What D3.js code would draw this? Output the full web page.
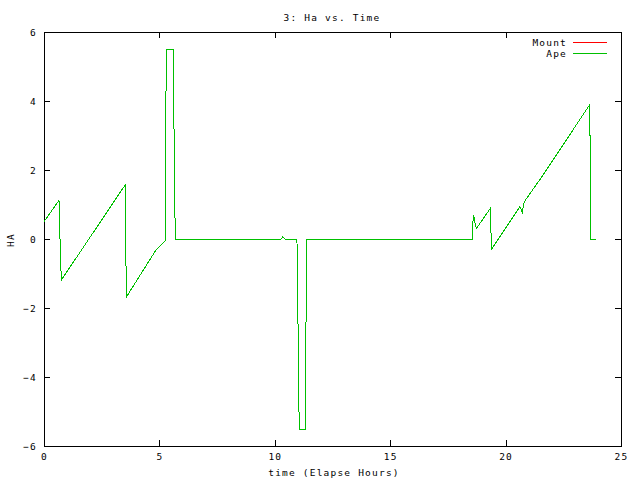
<!DOCTYPE html>
<html>
<head>
<meta charset="utf-8">
<script src="https://cdn.jsdelivr.net/npm/d3@7"></script>
<style>
  body { margin: 0; background: #fff; }
  svg text { font-family: "DejaVu Sans Mono", monospace; font-size: 9.5px; letter-spacing: 1.2px; fill: #000; }
</style>
</head>
<body>
<div id="chart"></div>
<script>
// elapsed hours and hour angle
const times = [0.00, 0.65, 0.67, 0.72, 0.75, 3.52, 3.54, 3.57, 4.85, 5.25,
  5.26, 5.28, 5.33, 5.60, 5.62, 5.66, 5.69, 10.27, 10.34, 10.44,
  10.96, 10.99, 11.03, 11.06, 11.32, 11.34, 11.36, 11.39, 18.56, 18.58,
  18.62, 18.65, 18.73, 19.34, 19.36, 19.40, 20.62, 20.72, 20.81, 21.63,
  23.63, 23.66, 23.68, 23.70, 23.90];
const mountHA = [0.50, 1.12, 0.55, -0.59, -1.19, 1.57, -0.05, -1.68, -0.32, -0.06,
  1.32, 4.10, 5.50, 5.50, 4.10, 1.32, 0.00, 0.00, 0.06, 0.00,
  0.00, -1.39, -4.12, -5.51, -5.51, -4.12, -1.39, 0.00, 0.00, 0.48,
  0.70, 0.55, 0.30, 0.89, 0.30, -0.29, 0.94, 0.77, 1.08, 1.86,
  3.88, 2.92, 0.97, 0.00, 0.00];
const apeHA = [0.50, 1.12, 0.55, -0.59, -1.19, 1.57, -0.05, -1.68, -0.32, -0.06,
  1.32, 4.10, 5.50, 5.50, 4.10, 1.32, 0.00, 0.00, 0.06, 0.00,
  0.00, -1.39, -4.12, -5.51, -5.51, -4.12, -1.39, 0.00, 0.00, 0.48,
  0.70, 0.55, 0.30, 0.89, 0.30, -0.29, 0.94, 0.77, 1.08, 1.86,
  3.88, 2.92, 0.97, 0.00, 0.00];
const xTicks = [0, 5, 10, 15, 20, 25];
const yTicks = [-6, -4, -2, 0, 2, 4, 6];

const series = [
  { name: "Mount", color: "#ff0000", values: mountHA },
  { name: "Ape", color: "#00c000", values: apeHA }
];

const width = 640, height = 480;
const margin = { top: 32, right: 19, bottom: 34, left: 44 };

const svg = d3.select("#chart").append("svg")
  .attr("width", width)
  .attr("height", height);

const x = d3.scaleLinear().domain([0, 25]).range([margin.left, width - margin.right]);
const y = d3.scaleLinear().domain([-6, 6]).range([height - margin.bottom, margin.top]);

// ticks on all four sides, pointing inward
svg.append("g")
  .attr("transform", `translate(0,${height - margin.bottom})`)
  .call(d3.axisBottom(x).tickValues(xTicks).tickSizeInner(-6).tickSizeOuter(0).tickPadding(7).tickFormat(d3.format("d")));
svg.append("g")
  .attr("transform", `translate(0,${margin.top})`)
  .call(d3.axisTop(x).tickValues(xTicks).tickSizeInner(-6).tickSizeOuter(0).tickFormat(""));
svg.append("g")
  .attr("transform", `translate(${margin.left},0)`)
  .call(d3.axisLeft(y).tickValues(yTicks).tickSizeInner(-6).tickSizeOuter(0).tickPadding(7).tickFormat(d3.format("d")));
svg.append("g")
  .attr("transform", `translate(${width - margin.right},0)`)
  .call(d3.axisRight(y).tickValues(yTicks).tickSizeInner(-6).tickSizeOuter(0).tickFormat(""));

svg.selectAll(".domain").remove();
svg.selectAll(".tick line").attr("stroke", "#000").attr("shape-rendering", "crispEdges");
svg.selectAll(".tick text").attr("font-family", null).attr("font-size", null);

svg.append("rect")
  .attr("x", margin.left)
  .attr("y", margin.top)
  .attr("width", width - margin.left - margin.right)
  .attr("height", height - margin.top - margin.bottom)
  .attr("fill", "none")
  .attr("stroke", "#000")
  .attr("shape-rendering", "crispEdges");

const line = d3.line()
  .x((d, i) => x(times[i]))
  .y(d => y(d));

svg.selectAll(".series")
  .data(series)
  .enter().append("path")
  .attr("class", "series")
  .attr("d", d => line(d.values))
  .attr("fill", "none")
  .attr("stroke", d => d.color)
  .attr("stroke-width", 1)
  .attr("shape-rendering", "crispEdges");

// legend
const legend = svg.selectAll(".legend")
  .data(series)
  .enter().append("g")
  .attr("class", "legend")
  .attr("transform", (d, i) => `translate(0,${42.5 + i * 11})`);
legend.append("text")
  .attr("x", 567)
  .attr("dy", "0.35em")
  .attr("text-anchor", "end")
  .text(d => d.name);
legend.append("line")
  .attr("x1", 573).attr("x2", 607)
  .attr("stroke", d => d.color)
  .attr("shape-rendering", "crispEdges");

svg.append("text")
  .attr("x", 332)
  .attr("y", 21)
  .attr("text-anchor", "middle")
  .text("3: Ha vs. Time");

svg.append("text")
  .attr("x", 334)
  .attr("y", 476)
  .attr("text-anchor", "middle")
  .text("time (Elapse Hours)");

svg.append("text")
  .attr("transform", "translate(14,240) rotate(-90)")
  .attr("text-anchor", "middle")
  .text("HA");
</script>
</body>
</html>
